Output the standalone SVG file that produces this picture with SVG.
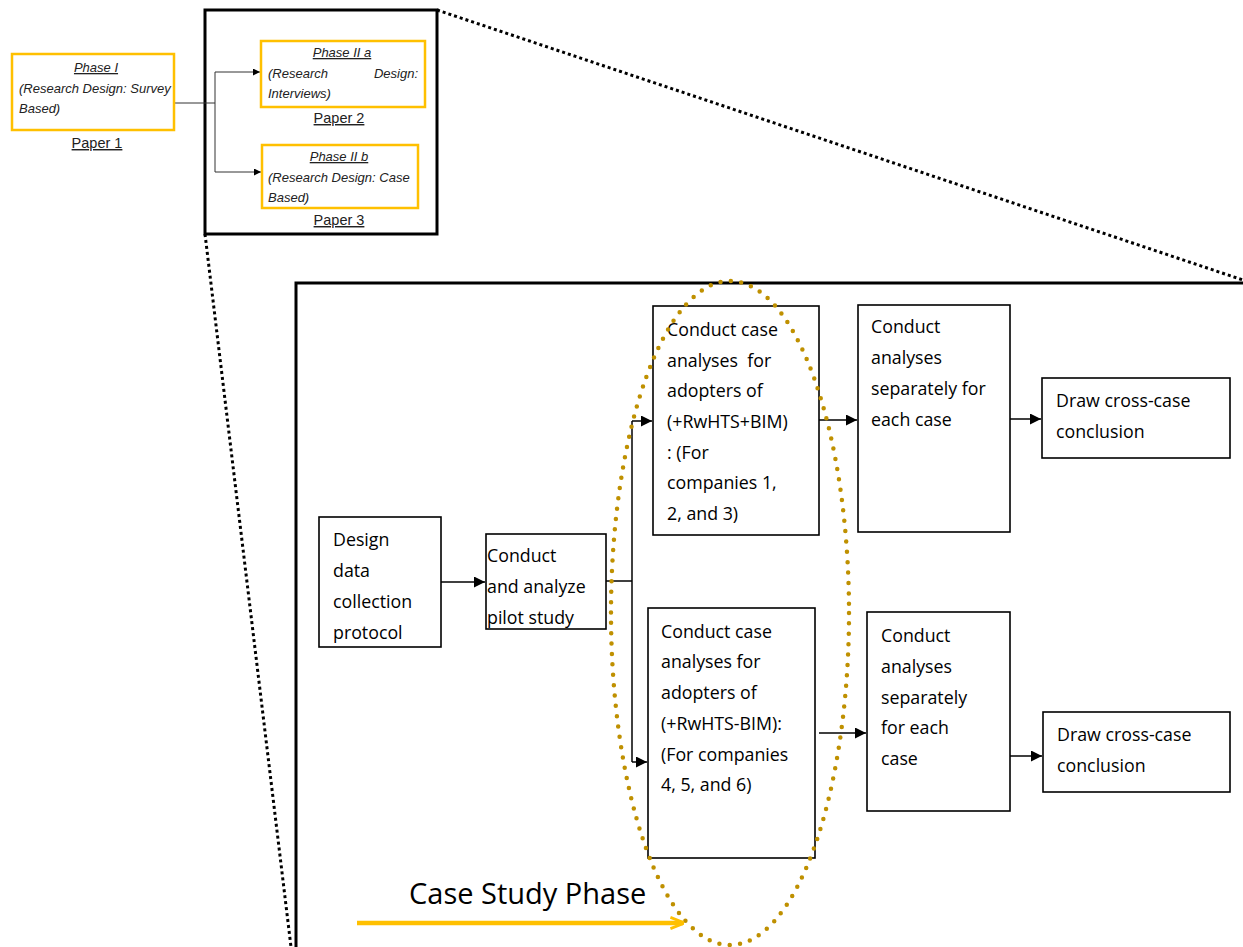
<svg xmlns="http://www.w3.org/2000/svg" width="1243" height="947" viewBox="0 0 1243 947">
  <style>
    .phase { fill: #fff; stroke: #FFC000; stroke-width: 2.5; }
    .box { fill: #fff; stroke: #000; stroke-width: 1.6; }
    .frame { fill: none; stroke: #000; stroke-width: 3; }
    .zoom { fill: none; stroke: #000; stroke-width: 3; stroke-dasharray: 3 3; }
    .wire { fill: none; stroke: #000; stroke-width: 1.5; }
    .thin { fill: none; stroke: #333; stroke-width: 1; }
    .sm { font-family: "Liberation Sans", Arial, sans-serif; font-size: 13px; font-style: italic; fill: #222; }
    .paper { font-family: "Liberation Sans", Arial, sans-serif; font-size: 14.5px; fill: #222; text-decoration: underline; }
    .t { font-family: "Open Sans", "Liberation Sans", sans-serif; font-size: 17.8px; fill: #000; }
  </style>
  <defs>
    <marker id="arr" viewBox="0 0 10 10" refX="10" refY="5" markerWidth="8" markerHeight="7" markerUnits="userSpaceOnUse" orient="auto">
      <path d="M0,0 L10,5 L0,10 z" fill="#000"/>
    </marker>
    <marker id="arrBig" viewBox="0 0 10 10" refX="10" refY="5" markerWidth="12" markerHeight="11" markerUnits="userSpaceOnUse" orient="auto">
      <path d="M0,0 L10,5 L0,10 z" fill="#000"/>
    </marker>
    <marker id="arrGold" viewBox="0 0 10 10" refX="9" refY="5" markerWidth="14" markerHeight="14" markerUnits="userSpaceOnUse" orient="auto">
      <path d="M0,1 L10,5 L0,9" fill="none" stroke="#FFC000" stroke-width="2"/>
    </marker>
  </defs>

  <!-- zoom-out guide lines -->
  <line class="zoom" x1="437" y1="10" x2="1243" y2="280"/>
  <line class="zoom" x1="205" y1="234" x2="291" y2="947"/>

  <!-- frames -->
  <rect class="frame" x="205" y="10" width="232" height="224" fill="#fff"/>
  <path class="frame" d="M296,947 L296,283 L1245,283"/>

  <g id="connectors">
    <path class="thin" d="M174,103 L215,103"/>
    <path class="thin" d="M215,72 L215,172"/>
    <path class="thin" d="M215,72 L260,72" marker-end="url(#arr)"/>
    <path class="thin" d="M215,172 L261,172" marker-end="url(#arr)"/>

    <path class="wire" d="M441,582 L485,582" marker-end="url(#arrBig)"/>
    <path class="wire" d="M606,581 L632,581"/>
    <path class="wire" d="M632,421 L632,762"/>
    <path class="wire" d="M632,421 L652,421" marker-end="url(#arrBig)"/>
    <path class="wire" d="M632,762 L647,762" marker-end="url(#arrBig)"/>
    <path class="wire" d="M819,420 L857,420" marker-end="url(#arrBig)"/>
    <path class="wire" d="M1010,419 L1041,419" marker-end="url(#arrBig)"/>
    <path class="wire" d="M819,733 L866,733" marker-end="url(#arrBig)"/>
    <path class="wire" d="M1010,756 L1042,756" marker-end="url(#arrBig)"/>
  </g>

  <!-- Phase I -->
  <g id="phase1">
    <rect class="phase" x="12" y="54" width="162" height="76"/>
    <text class="sm" x="96" y="72" text-anchor="middle" text-decoration="underline">Phase I</text>
    <text class="sm" x="19" y="93">(Research Design: Survey</text>
    <text class="sm" x="19" y="113">Based)</text>
    <text class="paper" x="97" y="148" text-anchor="middle">Paper 1</text>
  </g>

  <!-- Phase II a -->
  <g id="phase2a">
    <rect class="phase" x="261" y="41" width="164" height="66"/>
    <text class="sm" x="342" y="57" text-anchor="middle" text-decoration="underline">Phase II a</text>
    <text class="sm" x="268" y="78">(Research</text>
    <text class="sm" x="418" y="78" text-anchor="end">Design:</text>
    <text class="sm" x="268" y="98">Interviews)</text>
    <text class="paper" x="339" y="123" text-anchor="middle">Paper 2</text>
  </g>

  <!-- Phase II b -->
  <g id="phase2b">
    <rect class="phase" x="262" y="145" width="156" height="63"/>
    <text class="sm" x="339" y="161" text-anchor="middle" text-decoration="underline">Phase II b</text>
    <text class="sm" x="268" y="182">(Research Design: Case</text>
    <text class="sm" x="268" y="202">Based)</text>
    <text class="paper" x="339" y="225" text-anchor="middle">Paper 3</text>
  </g>

  <!-- Design data collection protocol -->
  <g id="design">
    <rect class="box" x="319" y="517" width="122" height="130"/>
    <text class="t" x="333" y="546">Design</text>
    <text class="t" x="333" y="577">data</text>
    <text class="t" x="333" y="608">collection</text>
    <text class="t" x="333" y="639">protocol</text>
  </g>

  <!-- Pilot study -->
  <g id="pilot">
    <rect class="box" x="486" y="534" width="120" height="95"/>
    <text class="t" x="487" y="562">Conduct</text>
    <text class="t" x="487" y="593">and analyze</text>
    <text class="t" x="487" y="624">pilot study</text>
  </g>

  <!-- Case analyses +BIM -->
  <g id="caseBIM">
    <rect class="box" x="653" y="306" width="166" height="229"/>
    <text class="t" x="667" y="336">Conduct case</text>
    <text class="t" x="667" y="367" xml:space="preserve">analyses  for</text>
    <text class="t" x="667" y="397">adopters of</text>
    <text class="t" x="667" y="428">(+RwHTS+BIM)</text>
    <text class="t" x="667" y="459">: (For</text>
    <text class="t" x="667" y="489">companies 1,</text>
    <text class="t" x="667" y="520">2, and 3)</text>
  </g>

  <!-- Case analyses -BIM -->
  <g id="caseNoBIM">
    <rect class="box" x="648" y="608" width="167" height="250"/>
    <text class="t" x="661" y="638">Conduct case</text>
    <text class="t" x="661" y="668">analyses for</text>
    <text class="t" x="661" y="699">adopters of</text>
    <text class="t" x="661" y="730">(+RwHTS-BIM):</text>
    <text class="t" x="661" y="761">(For companies</text>
    <text class="t" x="661" y="791">4, 5, and 6)</text>
  </g>

  <!-- Separate analyses (top) -->
  <g id="separateTop">
    <rect class="box" x="858" y="305" width="152" height="227"/>
    <text class="t" x="871" y="333">Conduct</text>
    <text class="t" x="871" y="364">analyses</text>
    <text class="t" x="871" y="395">separately for</text>
    <text class="t" x="871" y="426">each case</text>
  </g>

  <!-- Separate analyses (bottom) -->
  <g id="separateBottom">
    <rect class="box" x="867" y="612" width="143" height="199"/>
    <text class="t" x="881" y="642">Conduct</text>
    <text class="t" x="881" y="673">analyses</text>
    <text class="t" x="881" y="704">separately</text>
    <text class="t" x="881" y="734">for each</text>
    <text class="t" x="881" y="765">case</text>
  </g>

  <!-- Cross-case conclusions -->
  <g id="crossTop">
    <rect class="box" x="1042" y="378" width="188" height="80"/>
    <text class="t" x="1056" y="407">Draw cross-case</text>
    <text class="t" x="1056" y="438">conclusion</text>
  </g>
  <g id="crossBottom">
    <rect class="box" x="1043" y="712" width="187" height="80"/>
    <text class="t" x="1057" y="741">Draw cross-case</text>
    <text class="t" x="1057" y="772">conclusion</text>
  </g>

  <!-- case study phase highlight -->
  <ellipse cx="730" cy="613" rx="119" ry="332" fill="none" stroke="#BF9000" stroke-width="4.5" stroke-linecap="round" stroke-dasharray="0 10.4"/>

  <g id="caseStudyPhase">
    <text x="409" y="904" font-family="Open Sans, Liberation Sans, sans-serif" font-size="29" fill="#000">Case Study Phase</text>
    <line x1="357" y1="923" x2="683" y2="923" stroke="#FFC000" stroke-width="4.5" marker-end="url(#arrGold)"/>
  </g>
</svg>
